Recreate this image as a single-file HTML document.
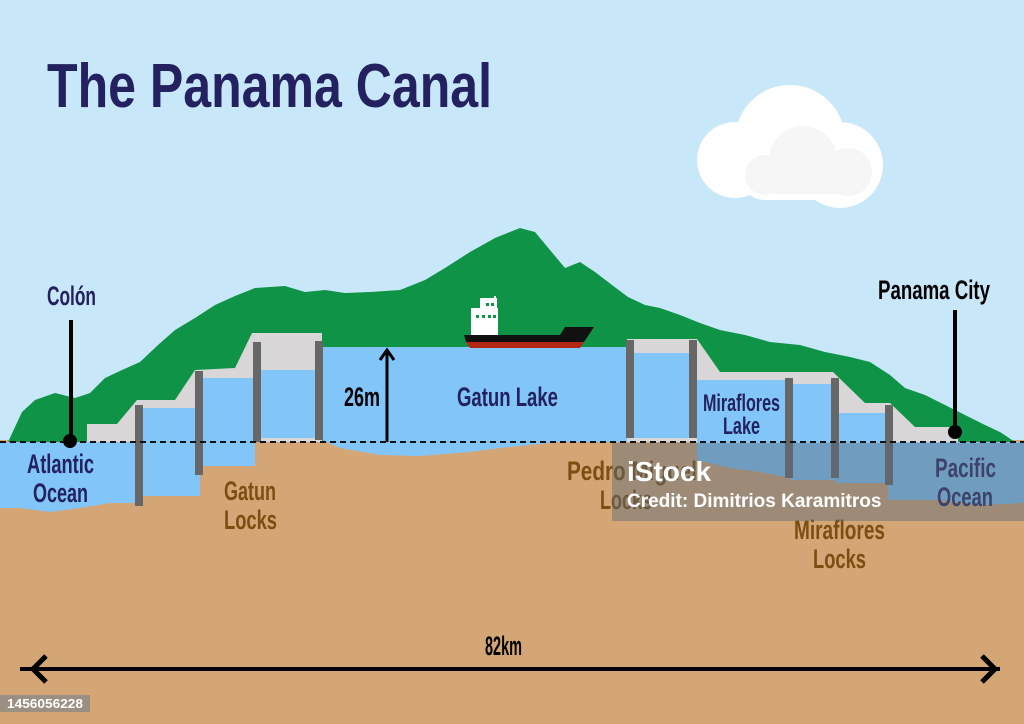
<!DOCTYPE html>
<html><head><meta charset="utf-8"><style>
html,body{margin:0;padding:0;width:1024px;height:724px;overflow:hidden;background:#c8e8fa}
svg{display:block}
text{font-family:"Liberation Sans",sans-serif;font-weight:bold}
</style></head><body>
<svg width="1024" height="724" viewBox="0 0 1024 724" xmlns="http://www.w3.org/2000/svg">
<rect width="1024" height="724" fill="#c8e8fa"/>
<text x="47" y="107" font-size="62" fill="#23215f" textLength="445" lengthAdjust="spacingAndGlyphs">The Panama Canal</text>
<!-- cloud -->
<g fill="#ffffff">
<circle cx="790" cy="140" r="55"/>
<circle cx="840" cy="165" r="43"/>
<rect x="740" y="150" width="130" height="50" rx="25"/>
<circle cx="735" cy="160" r="38"/>
</g>
<g fill="#f6f6f6">
<circle cx="803" cy="160" r="34"/>
<circle cx="765" cy="175" r="20"/>
<circle cx="848" cy="172" r="24"/>
<rect x="765" y="168" width="90" height="26" rx="13"/>
</g>
<!-- ground -->
<rect x="0" y="440" width="1024" height="284" fill="#d4a675"/>
<!-- mountain -->
<path fill="#0f9447" d="M8,442 L22,412 L35,400 L55,393 L75,398 L90,393 L105,378 L122,370 L140,362 L158,345 L175,330 L195,318 L215,305 L235,296 L255,288 L285,286 L305,292 L325,290 L345,293 L370,292 L400,290 L425,280 L445,268 L470,252 L495,238 L520,228 L535,232 L550,250 L565,268 L580,262 L595,272 L612,285 L628,297 L645,305 L660,308 L680,315 L700,323 L720,330 L745,335 L770,342 L800,345 L825,352 L850,357 L870,362 L890,375 L905,388 L925,395 L945,405 L965,415 L985,425 L1000,432 L1015,442 Z"/>
<!-- concrete -->
<path fill="#d8d6d6" d="M87,442 L87,424 L117,424 L137,400 L175,400 L195,370 L235,368 L252,333 L322,333 L322,442 Z"/>
<path fill="#d8d6d6" d="M627,442 L627,339 L697,339 L720,372 L833,372 L865,403 L890,403 L915,427 L958,427 L958,442 Z"/>
<!-- water -->
<g fill="#82c5f8">
<path d="M0,442 L140,442 L140,503 L110,503 L80,508 L50,512 L20,508 L0,508 Z"/>
<rect x="140" y="408" width="60" height="88"/>
<rect x="200" y="378" width="55" height="88"/>
<rect x="255" y="370" width="65" height="68"/>
<path d="M322,347 L627,347 L627,442 L560,442 L500,448 L470,452 L420,456 L380,455 L340,448 L322,440 Z"/>
<rect x="632" y="353" width="60" height="85"/>
<path d="M697,380 L790,380 L790,478 L760,472 L730,468 L697,460 Z"/>
<rect x="790" y="384" width="45" height="96"/>
<rect x="835" y="413" width="55" height="70"/>
<path d="M888,442 L1024,442 L1024,503 L980,505 L940,500 L888,500 Z"/>
</g>
<!-- gates -->
<g fill="#676767">
<rect x="135" y="405" width="8" height="101"/>
<rect x="195" y="371" width="8" height="104"/>
<rect x="253" y="342" width="8" height="100"/>
<rect x="315" y="341" width="8" height="99"/>
<rect x="626" y="340" width="8" height="98"/>
<rect x="689" y="340" width="8" height="98"/>
<rect x="785" y="378" width="8" height="100"/>
<rect x="831" y="378" width="8" height="100"/>
<rect x="885" y="405" width="8" height="80"/>
</g>
<!-- ship -->
<g>
<rect x="471" y="308" width="27" height="27" fill="#fff"/>
<rect x="480" y="298" width="17" height="12" fill="#fff"/>
<rect x="494" y="296" width="2" height="4" fill="#fff"/>
<rect x="476" y="315" width="3" height="3" fill="#0f9447"/><rect x="482" y="315" width="3" height="3" fill="#0f9447"/><rect x="488" y="315" width="3" height="3" fill="#0f9447"/><rect x="493" y="315" width="3" height="3" fill="#0f9447"/>
<rect x="486" y="303" width="3" height="3" fill="#0f9447"/><rect x="491" y="303" width="3" height="3" fill="#0f9447"/>
<path d="M464,335 L560,335 L565,327 L594,327 L584,342 L466,342 Z" fill="#111"/>
<path d="M466,342 L584,342 L580,348 L470,348 Z" fill="#b22612"/>
</g>
<!-- dotted line -->
<line x1="0" y1="442" x2="1024" y2="442" stroke="#111" stroke-width="2" stroke-dasharray="6,4"/>
<!-- markers -->
<line x1="71" y1="320" x2="71" y2="440" stroke="#000" stroke-width="4"/>
<circle cx="70" cy="441" r="7" fill="#000"/>
<line x1="955" y1="310" x2="955" y2="430" stroke="#000" stroke-width="4"/>
<circle cx="955" cy="432" r="7" fill="#000"/>
<!-- 26m arrow -->
<line x1="387" y1="442" x2="387" y2="352" stroke="#000" stroke-width="3"/>
<path d="M380,360 L387,350 L394,360" fill="none" stroke="#000" stroke-width="3"/>
<!-- labels -->
<g font-size="27" fill="#23215f">
<text x="47" y="305" textLength="49" lengthAdjust="spacingAndGlyphs">Colón</text>
<text x="27" y="473" textLength="67" lengthAdjust="spacingAndGlyphs">Atlantic</text>
<text x="33" y="502" textLength="55" lengthAdjust="spacingAndGlyphs">Ocean</text>
<text x="457" y="406" textLength="101" lengthAdjust="spacingAndGlyphs">Gatun Lake</text>
<text x="703" y="411" font-size="24" textLength="77" lengthAdjust="spacingAndGlyphs">Miraflores</text>
<text x="723" y="434" font-size="24" textLength="37" lengthAdjust="spacingAndGlyphs">Lake</text>
<text x="935" y="477" textLength="61" lengthAdjust="spacingAndGlyphs">Pacific</text>
<text x="937" y="506" textLength="56" lengthAdjust="spacingAndGlyphs">Ocean</text>
</g>
<g font-size="27" fill="#000">
<text x="878" y="299" textLength="112" lengthAdjust="spacingAndGlyphs">Panama City</text>
<text x="344" y="406" textLength="36" lengthAdjust="spacingAndGlyphs">26m</text>
<text x="485" y="655" textLength="37" lengthAdjust="spacingAndGlyphs">82km</text>
</g>
<g font-size="27" fill="#7b4e12">
<text x="224" y="500" textLength="52" lengthAdjust="spacingAndGlyphs">Gatun</text>
<text x="224" y="529" textLength="53" lengthAdjust="spacingAndGlyphs">Locks</text>
<text x="567" y="480" textLength="130" lengthAdjust="spacingAndGlyphs">Pedro Miguel</text>
<text x="600" y="509" textLength="52" lengthAdjust="spacingAndGlyphs">Locks</text>
<text x="794" y="539" textLength="91" lengthAdjust="spacingAndGlyphs">Miraflores</text>
<text x="813" y="568" textLength="53" lengthAdjust="spacingAndGlyphs">Locks</text>
</g>
<!-- 82km arrow -->
<line x1="20" y1="669" x2="1000" y2="669" stroke="#000" stroke-width="4"/>
<path d="M46,656 L33,669 L46,682" fill="none" stroke="#000" stroke-width="5"/>
<path d="M982,656 L995,669 L982,682" fill="none" stroke="#000" stroke-width="5"/>
<!-- watermark -->
<rect x="612" y="443" width="412" height="78" fill="#5a6a7a" opacity="0.45"/>
<text x="627" y="481" font-size="28" fill="#fff">iStock</text>
<text x="627" y="507" font-size="19" fill="#fff">Credit: Dimitrios Karamitros</text>
<rect x="0" y="695" width="90" height="17" fill="#9b8f82"/>
<text x="7" y="708" font-size="13" fill="#fff" textLength="76" lengthAdjust="spacingAndGlyphs">1456056228</text>
</svg>
</body></html>
